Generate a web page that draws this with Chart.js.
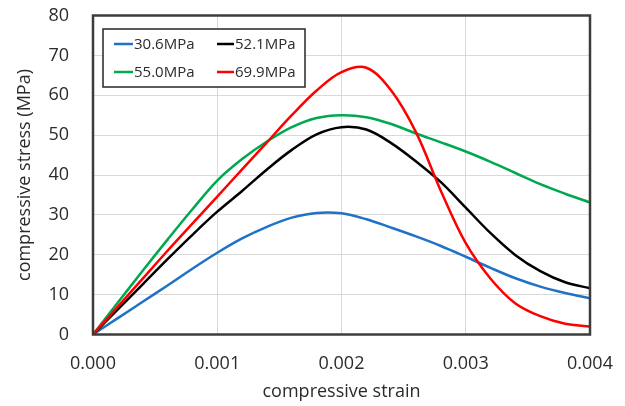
<!DOCTYPE html>
<html>
<head>
<meta charset="utf-8">
<script src="https://cdn.jsdelivr.net/npm/chart.js@4.4.1/dist/chart.umd.min.js"></script>
<style>
  html, body { margin: 0; padding: 0; background: #fff; }
  #wrap { width: 625px; height: 406px; }
</style>
</head>
<body>
<div id="wrap"><canvas id="chart"></canvas></div>
<script>
const strain = [0, 0.0002, 0.0004, 0.0006, 0.0008, 0.001, 0.0012, 0.0014, 0.0016, 0.0018, 0.002,
  0.0022, 0.0024, 0.0026, 0.0028, 0.003, 0.0032, 0.0034, 0.0036, 0.0038, 0.004];

const seriesNames = ["30.6MPa", "52.1MPa", "55.0MPa", "69.9MPa"];
const seriesColors = ["#1f72c4", "#000000", "#00a84f", "#ff0000"];

const stress306 = [0, 4.1, 8.2, 12.3, 16.5, 20.5, 24.1, 27.0, 29.3, 30.5, 30.4,
  28.9, 26.8, 24.6, 22.2, 19.5, 16.7, 14.1, 12.0, 10.4, 9.1];
const stress521 = [0, 6.3, 12.6, 18.9, 25.0, 30.8, 36.0, 41.4, 46.3, 50.2, 52.0,
  51.4, 48.0, 43.4, 38.2, 31.8, 25.4, 19.9, 15.9, 13.1, 11.6];
const stress550 = [0, 8.0, 16.0, 23.8, 31.4, 38.6, 44.0, 48.4, 52.0, 54.3, 55.0,
  54.5, 52.8, 50.4, 48.2, 45.9, 43.3, 40.5, 37.7, 35.3, 33.1];
const stress699 = [0, 7.0, 14.0, 21.0, 27.8, 34.6, 41.4, 48.2, 55.0, 61.2, 65.8,
  66.9, 61.2, 50.7, 36.0, 22.9, 14.0, 7.8, 4.6, 2.7, 2.0];

const yTicks = [0, 10, 20, 30, 40, 50, 60, 70, 80];
const xTicks = [0, 0.001, 0.002, 0.003, 0.004];

const allStress = [stress306, stress521, stress550, stress699];
const textColor = "#2b2b2b";
const fontFamily = "'Open Sans', sans-serif";

const datasets = allStress.map((vals, i) => ({
  label: seriesNames[i],
  data: strain.map((x, j) => ({ x, y: vals[j] })),
  borderColor: seriesColors[i],
  backgroundColor: seriesColors[i],
  borderWidth: 2.5,
  pointRadius: 0,
  tension: 0.35,
  fill: false,
  order: 3 - i,
}));

// box around the plot plus a framed 2x2 legend inside it
const framePlugin = {
  id: "frame",
  afterDatasetsDraw(chart) {
    const { ctx, chartArea: a } = chart;
    ctx.save();
    ctx.strokeStyle = "#3c3c3c";
    ctx.lineWidth = 2.5;
    ctx.strokeRect(a.left, a.top, a.right - a.left, a.bottom - a.top);

    const bx = 103, by = 29, bw = 202, bh = 58;
    ctx.fillStyle = "#fff";
    ctx.fillRect(bx, by, bw, bh);
    ctx.strokeStyle = "#262626";
    ctx.lineWidth = 1.5;
    ctx.strokeRect(bx, by, bw, bh);

    ctx.font = "15px " + fontFamily;
    ctx.textBaseline = "middle";
    ctx.textAlign = "left";
    const cols = [{ x0: 114, x1: 133 }, { x0: 217, x1: 234 }];
    const rows = [44, 72];
    chart.data.datasets.forEach((ds, i) => {
      const c = cols[i % 2], y = rows[Math.floor(i / 2)];
      ctx.strokeStyle = ds.borderColor;
      ctx.lineWidth = 2.5;
      ctx.beginPath();
      ctx.moveTo(c.x0, y);
      ctx.lineTo(c.x1, y);
      ctx.stroke();
      ctx.fillStyle = textColor;
      ctx.fillText(ds.label, c.x1 + 1, y + 1);
    });
    ctx.restore();
  },
};

new Chart(document.getElementById("chart"), {
  type: "line",
  data: { datasets },
  options: {
    responsive: true,
    maintainAspectRatio: false,
    animation: false,
    layout: { padding: { top: 15.5, right: 35, left: 14, bottom: 3 } },
    plugins: { legend: { display: false }, tooltip: { enabled: false } },
    scales: {
      x: {
        type: "linear",
        min: 0,
        max: 0.004,
        afterBuildTicks: (s) => { s.ticks = xTicks.map((v) => ({ value: v })); },
        afterFit: (s) => {
          s.height = 68.5;
          s.paddingLeft = 0;
          s.paddingRight = 0;
        },
        grid: { color: "#d9d9d9", lineWidth: 1, drawTicks: false },
        border: { display: false },
        ticks: {
          padding: 19,
          color: textColor,
          font: { family: fontFamily, size: 18 },
          callback: (v) => v.toFixed(3),
        },
        title: {
          display: true,
          text: "compressive strain",
          color: textColor,
          font: { family: fontFamily, size: 18 },
          padding: { top: 0, bottom: 0 },
        },
      },
      y: {
        min: 0,
        max: 80,
        afterBuildTicks: (s) => { s.ticks = yTicks.map((v) => ({ value: v })); },
        afterFit: (s) => {
          s.width = 79;
          s.paddingTop = 0;
          s.paddingBottom = 0;
        },
        grid: { color: "#d9d9d9", lineWidth: 1, drawTicks: false },
        border: { display: false },
        ticks: {
          padding: 24,
          color: textColor,
          font: { family: fontFamily, size: 18 },
        },
        title: {
          display: true,
          text: "compressive stress (MPa)",
          color: textColor,
          font: { family: fontFamily, size: 18 },
          padding: { top: 0, bottom: 0 },
        },
      },
    },
  },
  plugins: [framePlugin],
});
</script>
</body>
</html>
